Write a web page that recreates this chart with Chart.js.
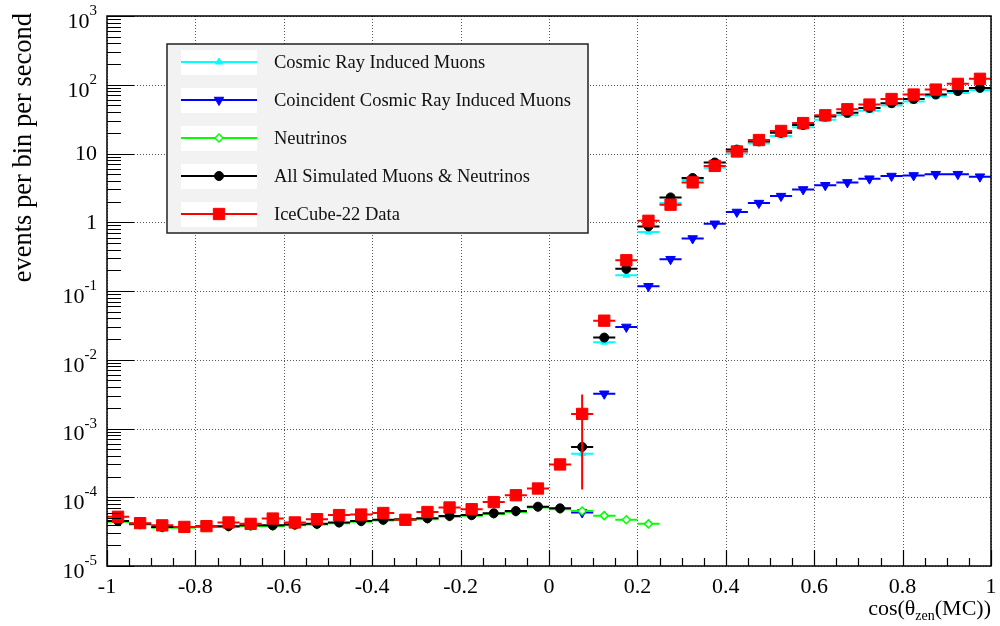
<!DOCTYPE html>
<html>
<head>
<meta charset="utf-8">
<script src="https://cdn.jsdelivr.net/npm/chart.js@4.4.1/dist/chart.umd.min.js"></script>
<style>
  html, body { margin: 0; padding: 0; background: #fff; }
  #wrap { width: 1000px; height: 626px; }
  canvas { background: #fff; }
</style>
</head>
<body>
<div id="wrap"><canvas id="zenith" width="1000" height="626"></canvas></div>
<script>
// bin centres of cos(zenith), 40 bins of width 0.05
const binCenters = [-0.975, -0.925, -0.875, -0.825, -0.775, -0.725, -0.675, -0.625, -0.575, -0.525,
  -0.475, -0.425, -0.375, -0.325, -0.275, -0.225, -0.175, -0.125, -0.075, -0.025,
  0.025, 0.075, 0.125, 0.175, 0.225, 0.275, 0.325, 0.375, 0.425, 0.475,
  0.525, 0.575, 0.625, 0.675, 0.725, 0.775, 0.825, 0.875, 0.925, 0.975];
const binWidth = 0.05;

const cosmicMuons = [null, null, null, null, null, null, null, null, null, null,
  null, null, null, null, null, null, null, null, null, null,
  null, 4.3e-4, 0.018, 0.17, 0.72, 1.9, 4.1, 6.2, 10, 14,
  18, 24, 31, 36, 42, 50, 57, 68, 76, 84];

const coincidentMuons = [null, null, null, null, null, null, null, null, null, null,
  null, null, null, null, null, null, null, null, null, null,
  null, 6e-5, 3.2e-3, 0.030, 0.117, 0.29, 0.58, 0.95, 1.41, 1.9,
  2.4, 3.0, 3.45, 3.8, 4.3, 4.7, 4.8, 5.0, 5.0, 4.6];

const neutrinos = [4.4e-5, 4.0e-5, 3.6e-5, 3.6e-5, 3.7e-5, 3.7e-5, 3.8e-5, 3.8e-5, 3.9e-5, 4.0e-5,
  4.2e-5, 4.4e-5, 4.6e-5, 4.7e-5, 4.8e-5, 5.2e-5, 5.4e-5, 5.7e-5, 6.1e-5, 7.1e-5,
  6.7e-5, 6.3e-5, 5.4e-5, 4.7e-5, 4.1e-5, null, null, null, null, null,
  null, null, null, null, null, null, null, null, null, null];

const allSimulated = [4.5e-5, 4.1e-5, 3.7e-5, 3.7e-5, 3.8e-5, 3.8e-5, 3.9e-5, 3.9e-5, 4.0e-5, 4.1e-5,
  4.3e-5, 4.5e-5, 4.7e-5, 4.8e-5, 4.95e-5, 5.35e-5, 5.5e-5, 5.85e-5, 6.3e-5, 7.3e-5,
  6.9e-5, 5.4e-4, 0.021, 0.21, 0.87, 2.3, 4.4, 7.4, 11.4, 15,
  20, 26, 34.5, 39, 46, 54, 62, 72, 81, 90];

const iceCubeData = [5.2e-5, 4.2e-5, 3.9e-5, 3.7e-5, 3.8e-5, 4.3e-5, 4.1e-5, 4.9e-5, 4.3e-5, 4.8e-5,
  5.5e-5, 5.6e-5, 5.9e-5, 4.7e-5, 6.1e-5, 7.1e-5, 6.7e-5, 8.5e-5, 1.07e-4, 1.34e-4,
  3.0e-4, 1.63e-3, 0.037, 0.28, 1.05, 1.8, 3.8, 6.6, 10.7, 15.7,
  21.3, 27.7, 36, 44, 51.5, 62, 72, 85, 103, 122];

const iceCubeErr = [0, 0, 0, 0, 0, 0, 0, 0, 0, 0,
  0, 0, 0, 0, 0, 0, 0, 0, 0, 0,
  2e-5, 1.5e-3, 0.006, 0.03, 0.08, 0, 0, 0, 0, 0,
  0, 0, 0, 0, 0, 0, 0, 0, 0, 0];

const xTickValues = [-1, -0.8, -0.6, -0.4, -0.2, 0, 0.2, 0.4, 0.6, 0.8, 1];
const xTickLabels = ['-1', '-0.8', '-0.6', '-0.4', '-0.2', '0', '0.2', '0.4', '0.6', '0.8', '1'];
const yDecades = [-5, -4, -3, -2, -1, 0, 1, 2, 3];

const legendLabels = ['Cosmic Ray Induced Muons', 'Coincident Cosmic Ray Induced Muons', 'Neutrinos',
  'All Simulated Muons & Neutrinos', 'IceCube-22 Data'];

const SERIF = '"Liberation Serif", "DejaVu Serif", "Times New Roman", serif';

function toPoints(values, errs) {
  const pts = [];
  values.forEach((v, i) => {
    if (v === null) return;
    pts.push({ x: binCenters[i], y: v, err: errs ? errs[i] : 0 });
  });
  return pts;
}

// horizontal bin-width bars plus vertical error bars, drawn under each dataset's markers
const binBars = {
  id: 'binBars',
  beforeDatasetDraw(chart, args) {
    const ds = chart.data.datasets[args.index];
    const { ctx, chartArea, scales: { x: xs, y: ys } } = chart;
    ctx.save();
    ctx.beginPath();
    ctx.rect(chartArea.left, chartArea.top, chartArea.right - chartArea.left, chartArea.bottom - chartArea.top);
    ctx.clip();
    ctx.strokeStyle = ds.borderColor;
    ctx.lineWidth = 2;
    ctx.beginPath();
    ds.data.forEach(p => {
      const py = ys.getPixelForValue(p.y);
      ctx.moveTo(xs.getPixelForValue(p.x - binWidth / 2), py);
      ctx.lineTo(xs.getPixelForValue(p.x + binWidth / 2), py);
      if (p.err) {
        const px = xs.getPixelForValue(p.x);
        const lo = Math.max(p.y - p.err, 1e-6);
        ctx.moveTo(px, ys.getPixelForValue(lo));
        ctx.lineTo(px, ys.getPixelForValue(p.y + p.err));
      }
    });
    ctx.stroke();
    ctx.restore();
  }
};

// ROOT-like frame: dotted grid, inward ticks, labels, titles and legend box
const rootFrame = {
  id: 'rootFrame',
  beforeDatasetsDraw(chart) {
    const { ctx, chartArea: a, scales: { x: xs, y: ys } } = chart;
    ctx.save();
    ctx.strokeStyle = '#555';
    ctx.lineWidth = 1;
    ctx.setLineDash([1, 2]);
    ctx.beginPath();
    xTickValues.forEach(v => {
      const px = Math.round(xs.getPixelForValue(v)) + 0.5;
      ctx.moveTo(px, a.top); ctx.lineTo(px, a.bottom);
    });
    yDecades.forEach(d => {
      const py = Math.round(ys.getPixelForValue(Math.pow(10, d))) + 0.5;
      ctx.moveTo(a.left, py); ctx.lineTo(a.right, py);
    });
    ctx.stroke();
    ctx.restore();
  },
  afterDraw(chart) {
    const { ctx, chartArea: a, scales: { x: xs, y: ys } } = chart;
    ctx.save();

    // ticks
    ctx.strokeStyle = '#000';
    ctx.lineWidth = 1.2;
    ctx.beginPath();
    for (let i = 0; i <= 40; i++) {
      const v = -1 + i * binWidth;
      const px = Math.round(xs.getPixelForValue(v)) + 0.5;
      const len = (i % 4 === 0) ? 16 : 8;
      ctx.moveTo(px, a.bottom); ctx.lineTo(px, a.bottom - len);
    }
    yDecades.forEach(d => {
      const py = Math.round(ys.getPixelForValue(Math.pow(10, d))) + 0.5;
      ctx.moveTo(a.left, py); ctx.lineTo(a.left + 27, py);
      if (d < 3) {
        for (let m = 2; m <= 9; m++) {
          const my = Math.round(ys.getPixelForValue(m * Math.pow(10, d))) + 0.5;
          ctx.moveTo(a.left, my); ctx.lineTo(a.left + 14, my);
        }
      }
    });
    ctx.stroke();

    // frame
    ctx.lineWidth = 1.5;
    ctx.strokeRect(a.left, a.top, a.right - a.left, a.bottom - a.top);

    // x tick labels
    ctx.fillStyle = '#000';
    ctx.font = '22px ' + SERIF;
    ctx.textAlign = 'center';
    ctx.textBaseline = 'alphabetic';
    xTickValues.forEach((v, i) => {
      ctx.fillText(xTickLabels[i], xs.getPixelForValue(v), a.bottom + 27);
    });

    // y tick labels
    const labelRight = a.left - 10;
    yDecades.forEach(d => {
      const py = ys.getPixelForValue(Math.pow(10, d));
      ctx.textAlign = 'right';
      if (d === 0 || d === 1) {
        ctx.font = '22px ' + SERIF;
        ctx.textBaseline = 'middle';
        ctx.fillText(d === 0 ? '1' : '10', labelRight, py + 1);
      } else {
        const sup = String(d);
        ctx.font = '15px ' + SERIF;
        const sw = ctx.measureText(sup).width;
        ctx.textBaseline = 'alphabetic';
        ctx.fillText(sup, labelRight, py - 1);
        ctx.font = '22px ' + SERIF;
        ctx.textBaseline = 'middle';
        ctx.fillText('10', labelRight - sw, py + 6);
      }
    });

    // y title
    ctx.save();
    ctx.translate(31, 13);
    ctx.rotate(-Math.PI / 2);
    ctx.font = '26.5px ' + SERIF;
    ctx.textAlign = 'right';
    ctx.textBaseline = 'alphabetic';
    ctx.fillText('events per bin per second', 0, 0);
    ctx.restore();

    // x title: cos(θ_zen(MC))
    const parts = [['cos(\u03B8', 22, 0], ['zen', 14, 5], ['(MC))', 22, 0]];
    let total = 0;
    parts.forEach(p => { ctx.font = p[1] + 'px ' + SERIF; total += ctx.measureText(p[0]).width; });
    let tx = a.right - total;
    ctx.textAlign = 'left';
    ctx.textBaseline = 'alphabetic';
    parts.forEach(p => {
      ctx.font = p[1] + 'px ' + SERIF;
      ctx.fillText(p[0], tx, 615 + p[2]);
      tx += ctx.measureText(p[0]).width;
    });

    // legend
    const lx = 167, ly = 44, lw = 421, lh = 189;
    ctx.fillStyle = '#f2f2f2';
    ctx.fillRect(lx, ly, lw, lh);
    ctx.strokeStyle = '#222';
    ctx.lineWidth = 1.5;
    ctx.strokeRect(lx, ly, lw, lh);
    legendLabels.forEach((label, i) => {
      const ds = chart.data.datasets[i];
      const ry = 62 + i * 38;
      ctx.fillStyle = '#fff';
      ctx.fillRect(181, ry - 12, 76, 25);
      ctx.strokeStyle = ds.borderColor;
      ctx.lineWidth = 2;
      ctx.beginPath();
      ctx.moveTo(181, ry); ctx.lineTo(257, ry);
      ctx.stroke();
      ctx.fillStyle = ds.pointBackgroundColor;
      ctx.strokeStyle = ds.borderColor;
      ctx.lineWidth = ds.pointBorderWidth;
      Chart.helpers.drawPoint(ctx, {
        pointStyle: ds.pointStyle, radius: ds.pointRadius,
        rotation: ds.pointRotation || 0, borderWidth: ds.pointBorderWidth
      }, 219, ry);
      ctx.fillStyle = '#111';
      ctx.font = '18.5px ' + SERIF;
      ctx.textAlign = 'left';
      ctx.textBaseline = 'middle';
      ctx.fillText(label, 274, ry + 1);
    });

    ctx.restore();
  }
};

function series(label, values, color, style, opts) {
  return Object.assign({
    label: label,
    data: toPoints(values, opts && opts.errs),
    borderColor: color,
    backgroundColor: color,
    pointBackgroundColor: color,
    pointBorderColor: color,
    pointStyle: style,
    pointRadius: 4,
    pointBorderWidth: 1,
    showLine: false
  }, opts || {});
}

const datasets = [
  series(legendLabels[0], cosmicMuons, '#00ffff', 'triangle', { pointRadius: 4, order: 5 }),
  series(legendLabels[1], coincidentMuons, '#0000ff', 'triangle', { pointRadius: 5.5, pointRotation: 180, order: 4 }),
  series(legendLabels[2], neutrinos, '#00ff00', 'rectRot',
    { pointRadius: 4, pointBackgroundColor: '#ffffff', pointBorderWidth: 1.5, order: 3 }),
  series(legendLabels[3], allSimulated, '#000000', 'circle', { pointRadius: 4.5, order: 2 }),
  series(legendLabels[4], iceCubeData, '#ff0000', 'rect', { pointRadius: 8, order: 1, errs: iceCubeErr })
];
datasets.forEach(d => { delete d.errs; });

new Chart(document.getElementById('zenith'), {
  type: 'scatter',
  data: { datasets: datasets },
  options: {
    responsive: false,
    animation: false,
    layout: { padding: { top: 16, right: 4, left: 0, bottom: 0 } },
    plugins: { legend: { display: false }, tooltip: { enabled: false } },
    scales: {
      x: {
        type: 'linear', min: -1, max: 1,
        ticks: { display: false },
        grid: { display: false },
        border: { display: false },
        afterFit: s => { s.height = 60; }
      },
      y: {
        type: 'logarithmic', min: 1e-5, max: 1e3,
        ticks: { display: false },
        grid: { display: false },
        border: { display: false },
        afterFit: s => { s.width = 107; }
      }
    }
  },
  plugins: [binBars, rootFrame]
});
</script>
</body>
</html>
